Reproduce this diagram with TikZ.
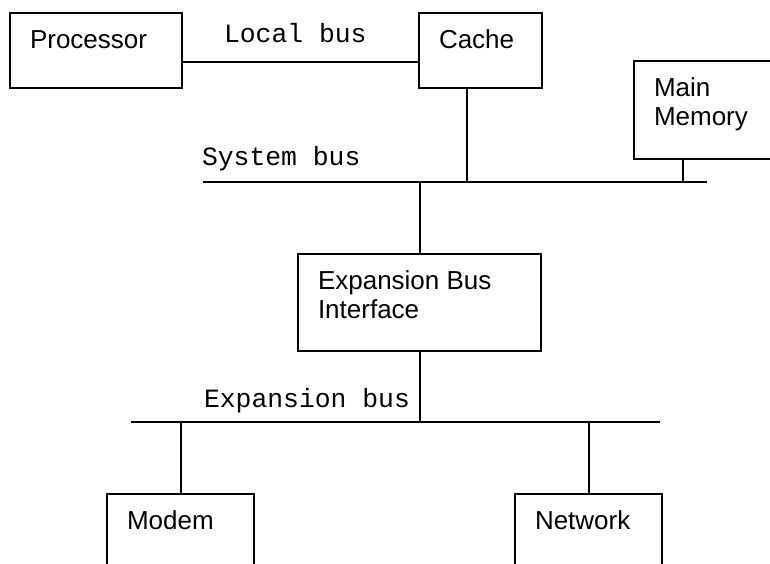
\documentclass[tikz,border=0pt]{standalone}
\usepackage{fontspec}
\setmainfont{Liberation Sans}
\setmonofont{Liberation Mono}
\tikzset{
  unit/.style={draw, rectangle, line width=1pt, anchor=north west, inner sep=0pt},
  unittext/.style={anchor=base west, inner sep=0pt, align=left,
    font=\fontsize{13}{14.5}\selectfont, xshift=10pt, yshift=-18pt},
  twolines/.style={yshift=-14.5pt},
  buslabel/.style={anchor=base west, inner sep=0pt,
    font=\ttfamily\fontsize{13.2}{15}\selectfont}
}
\begin{document}
\begin{tikzpicture}[x=0.5pt, y=-0.5pt, line width=1pt]
    \clip (0,0) rectangle (770,563);

    % Draw the units
    \node[unit, minimum width=86pt, minimum height=37.5pt] (proc) at (9,12) {};
    \node[unit, minimum width=61.5pt, minimum height=37.5pt] (cache) at (418,12) {};
    \node[unit, minimum width=75pt, minimum height=49pt] (mem) at (633,60) {};
    \node[unit, minimum width=121.5pt, minimum height=48.5pt] (ebi) at (297,253) {};
    \node[unit, minimum width=73.5pt, minimum height=50pt] (modem) at (106,493) {};
    \node[unit, minimum width=73.5pt, minimum height=50pt] (net) at (514,493) {};

    % Texts of the units
    \node[unittext] (proc-txt) at (proc.north west) {Processor};
    \node[unittext] (cache-txt) at (cache.north west) {Cache};
    \node[unittext, twolines] (mem-txt) at (mem.north west) {Main\\Memory};
    \node[unittext, twolines] (ebi-txt) at (ebi.north west) {Expansion Bus\\Interface};
    \node[unittext] (modem-txt) at (modem.north west) {Modem};
    \node[unittext] (net-txt) at (net.north west) {Network};

    % Draw the busses
    \coordinate (local) at (0,62);
    \coordinate (sysL) at (203,182);
    \coordinate (sysR) at (707,182);
    \coordinate (expL) at (131,422);
    \coordinate (expR) at (660,422);
    \coordinate (cachetap) at (467,182);
    \coordinate (memtap) at (683,182);

    \draw (proc.east |- local) -- (cache.west |- local);
    \draw (sysL) -- (sysR);
    \draw (expL) -- (expR);

    % Bus labels
    \node[buslabel] (local-lbl) at (223,42) {Local bus};
    \node[buslabel] (sys-lbl) at (201,165) {System bus};
    \node[buslabel] (exp-lbl) at (203,407) {Expansion bus};

    % Taps onto the busses
    \draw (cache.south -| cachetap) -- (cachetap);
    \draw (mem.south -| memtap) -- (memtap);
    \draw (ebi.north |- sysL) -- (ebi.north);
    \draw (ebi.south) -- (ebi.south |- expL);
    \draw (modem.north |- expL) -- (modem.north);
    \draw (net.north |- expL) -- (net.north);
\end{tikzpicture}
\end{document}
